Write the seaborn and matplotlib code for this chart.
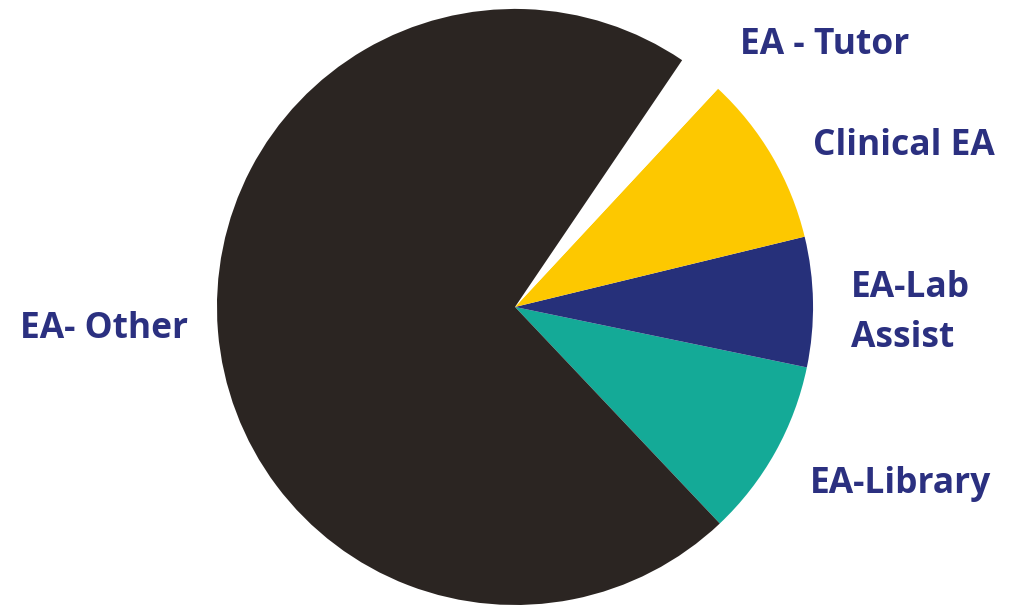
import matplotlib
matplotlib.use("Agg")
import matplotlib.pyplot as plt
import seaborn as sns

sns.set_theme(style="white")
plt.rcParams['font.family'] = ['Open Sans', 'DejaVu Sans']

categories = ["EA-Library", "EA-Lab\nAssist", "Clinical EA", "EA - Tutor", "EA- Other"]
values = [9.5, 6.9, 9.1, 2.4, 70.1]
colors = ["#14aa97", "#26307a", "#fdc800", "#ffffff", "#2b2522"]

label_color = "#2b3080"

fig = plt.figure(figsize=(10.12, 6.07), dpi=100)
fig.patch.set_facecolor("white")
ax = fig.add_axes([0.2144, 0.0033, 0.589, 0.982])
wedges, _ = ax.pie(values, colors=colors, startangle=-46.6, counterclock=True,
                   wedgeprops=dict(linewidth=0))
ax.set_xlim(-1, 1)
ax.set_ylim(-1, 1)
ax.set_aspect("equal")
ax.axis("off")

label_pos = {
    "EA-Library": (1.292, -0.595, "center"),
    "EA-Lab\nAssist": (1.128, -0.02, "left"),
    "Clinical EA": (1.305, 0.54, "center"),
    "EA - Tutor": (1.04, 0.879, "center"),
    "EA- Other": (-1.379, -0.075, "center"),
}
for cat in categories:
    x, y, ha = label_pos[cat]
    ax.text(x, y, cat, ha=ha, va="center", fontsize=25.5, fontweight="bold",
            color=label_color, linespacing=1.5, clip_on=False)

fig.savefig("out.png", dpi=100, facecolor="white")
